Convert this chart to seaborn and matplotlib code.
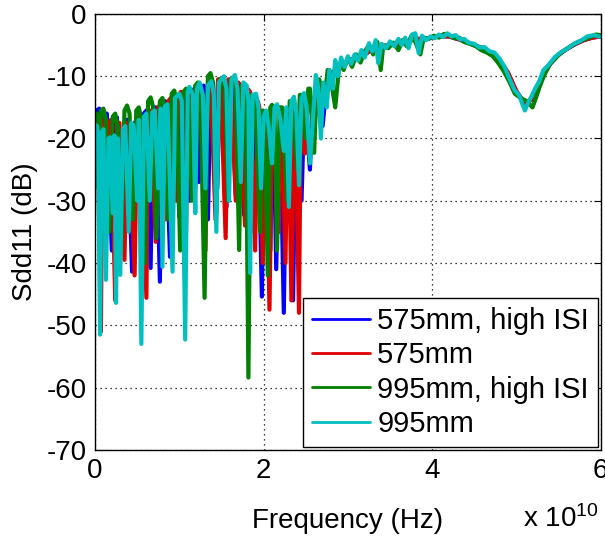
import matplotlib
matplotlib.use("Agg")
import matplotlib.pyplot as plt
import seaborn as sns
import pandas as pd
import numpy as np

# ---------------- data (frequency in units of 1e10 Hz, Sdd11 in dB) ----------------
series_names = ["575mm, high ISI", "575mm", "995mm, high ISI", "995mm"]
series_colors = ["#0000FF", "#E00000", "#008000", "#00BFBF"]

blue_f = [0.00, 0.02, 0.05, 0.08, 0.11, 0.14, 0.20, 0.23, 0.26, 0.32, 0.35, 0.38, 0.44, 0.47, 0.50,
          0.55, 0.58, 0.61, 0.66, 0.69, 0.72, 0.77, 0.80, 0.83, 0.89, 0.92, 0.95, 1.00, 1.03, 1.06,
          1.12, 1.15, 1.18, 1.23, 1.26, 1.29, 1.34, 1.37, 1.40, 1.45, 1.48, 1.51, 1.56, 1.59, 1.62,
          1.67, 1.70, 1.72, 1.77, 1.80, 1.83, 1.88, 1.91, 1.93, 1.98, 2.01, 2.03, 2.08, 2.10, 2.12,
          2.15, 2.18, 2.20, 2.24, 2.27, 2.30, 2.35, 2.38, 2.40, 2.45, 2.48, 2.50, 2.55, 2.58, 2.62,
          2.70, 2.75,
          2.80, 2.90, 3.00, 3.10, 3.20, 3.30, 3.40, 3.50, 3.60, 3.70, 3.80, 3.90, 4.00, 4.10, 4.20,
          4.30, 4.40, 4.50, 4.60, 4.70, 4.80, 4.90, 5.00, 5.10, 5.20, 5.30, 5.40, 5.50, 5.60, 5.70,
          5.80, 5.90, 6.00]
blue_db = [-19, -15.5, -15.2, -28, -16.5, -16, -38, -17, -16.6, -30, -17.5, -17, -41.4, -17.5, -17,
           -29, -16, -15.5, -40.8, -15.5, -15, -43, -14.5, -14, -39, -14, -13.5, -32.6, -13, -12.5,
           -30, -12.5, -12, -27, -12, -11.5, -33, -11.5, -11, -28, -11, -11, -31, -11, -11,
           -29, -11.5, -12, -32.3, -12.5, -13, -35, -14, -15, -45.4, -16.5, -17, -38, -18, -19,
           -41, -19.5, -20, -48, -19, -18, -46, -17.5, -17, -30, -16, -16, -25, -14, -13,
           -18, -11,
           -10, -8.5, -7.5, -7, -6.5, -5.5, -5.2, -5, -4.8, -4.5, -4, -4, -3.8, -3.6, -3.6,
           -4, -4.5, -5, -5.6, -6.3, -7.5, -9.5, -12.5, -14.5, -13.5, -10, -8, -6.5, -5.6, -4.8,
           -4.2, -3.8, -3.6]

red_f = [0.00, 0.03, 0.07, 0.09, 0.11, 0.15, 0.17, 0.19, 0.24, 0.26, 0.29, 0.35, 0.38, 0.41, 0.47,
         0.50, 0.54, 0.61, 0.63, 0.66, 0.72, 0.75, 0.78, 0.84, 0.87, 0.90, 0.96, 0.99, 1.02, 1.08,
         1.10, 1.13, 1.19, 1.22, 1.25, 1.31, 1.34, 1.37, 1.43, 1.46, 1.49, 1.55, 1.58, 1.61, 1.67,
         1.70, 1.72, 1.78, 1.81, 1.84, 1.90, 1.93, 1.95, 1.99, 2.01, 2.03, 2.07, 2.10, 2.12, 2.18,
         2.20, 2.22, 2.26, 2.28, 2.30, 2.33, 2.36, 2.38, 2.42, 2.44, 2.45, 2.49, 2.52, 2.55, 2.60,
         2.65, 2.68, 2.75, 2.80,
         2.90, 3.00, 3.10, 3.20, 3.30, 3.40, 3.50, 3.60, 3.70, 3.80, 3.90, 4.00, 4.10, 4.20, 4.30,
         4.40, 4.50, 4.60, 4.70, 4.80, 4.90, 5.00, 5.10, 5.20, 5.30, 5.40, 5.50, 5.60, 5.70, 5.80,
         5.90, 6.00]
red_db = [-18.5, -17, -51, -17.5, -17, -30, -17.5, -17, -46, -17.5, -17.5, -39.5, -17.5, -17.5, -42,
          -17, -16.5, -45.6, -16, -15.5, -36.6, -15, -14.5, -33, -14, -13.5, -30, -13, -12.5, -35,
          -12.5, -12, -28, -12, -11.5, -38, -11, -10.5, -33, -10.5, -10.5, -36, -10.5, -10.5, -30,
          -11, -11.5, -34, -12, -12.5, -38, -14, -15, -40, -16, -17, -47.5, -17, -17.5, -35,
          -18.5, -19, -40, -19, -19, -46, -18.5, -18, -48, -17.5, -17, -22.4, -15, -14, -18,
          -12, -12, -12.2, -9.5,
          -8.5, -7.5, -7, -6.5, -5.6, -5.2, -5, -4.8, -4.4, -4, -4, -3.8, -3.6, -3.6, -4,
          -4.4, -5, -5.5, -6.3, -7.4, -9.4, -12.4, -14.4, -13.6, -10.2, -8, -6.5, -5.6, -4.8, -4.2,
          -3.8, -3.6]

green_f = [0.00, 0.02, 0.04, 0.07, 0.10, 0.13, 0.17, 0.21, 0.24, 0.27, 0.31, 0.35, 0.38, 0.41, 0.45,
           0.49, 0.52, 0.55, 0.59, 0.63, 0.66, 0.69, 0.73, 0.77, 0.80, 0.83, 0.87, 0.91, 0.94, 0.97,
           1.01, 1.05, 1.08, 1.11, 1.15, 1.19, 1.22, 1.25, 1.30, 1.34, 1.37, 1.40, 1.44, 1.48, 1.51,
           1.54, 1.58, 1.61, 1.64, 1.67, 1.71, 1.74, 1.77, 1.79, 1.82, 1.85, 1.88, 1.90, 1.96, 1.99,
           2.01, 2.05, 2.08, 2.10, 2.13, 2.16, 2.19, 2.22, 2.28, 2.31, 2.34, 2.40, 2.43, 2.45, 2.50,
           2.53, 2.55, 2.60, 2.63, 2.66, 2.72, 2.76, 2.78, 2.85,
           2.90, 2.95, 3.00, 3.05, 3.10, 3.15, 3.20, 3.25, 3.30, 3.35, 3.39, 3.42, 3.48, 3.54, 3.60,
           3.65, 3.70, 3.75, 3.80, 3.86, 3.90, 3.96, 4.02, 4.08, 4.14, 4.20, 4.26, 4.32, 4.38, 4.45,
           4.52, 4.58, 4.65, 4.72, 4.78, 4.85, 4.92, 4.98, 5.05, 5.12, 5.19, 5.23, 5.28, 5.33, 5.40,
           5.47, 5.55, 5.62, 5.70, 5.78, 5.86, 5.94, 6.00]
green_db = [-18, -16, -28, -15.5, -15.2, -17, -35, -16.5, -16, -18, -38, -15.5, -14.7, -16, -33,
            -15.5, -15, -17, -40, -14, -13.4, -15, -36, -14, -13.5, -15, -33, -12.8, -12.3, -14,
            -38, -12.5, -12, -13.5, -30, -11.5, -11, -12.5, -45.6, -10, -9.5, -11, -32, -10.5, -10.5,
            -12, -30, -10.5, -10.5, -12, -37.9, -11.5, -12, -14, -58.4, -13, -13.5, -14, -35, -15.5,
            -16, -42, -15, -14.6, -16, -38, -15, -15, -30, -14, -14, -25, -13, -13, -20,
            -12, -12, -22.3, -11, -10.5, -14, -9, -9, -15,
            -8, -9, -7, -8.5, -6.5, -7.8, -6, -5, -6.5, -4.5, -9, -5, -5.5, -4.6, -5.8,
            -4.2, -5.2, -3.6, -4.5, -6.5, -3.8, -4.0, -3.5, -3.8, -3.2, -3.4, -3.9, -3.8, -4.5, -4.8,
            -5.2, -5.8, -6.2, -6.8, -7.8, -9.2, -11.0, -12.8, -13.5, -14.0, -15.0, -13.5, -11.5, -9.8, -8.0,
            -7.0, -6.0, -5.4, -4.7, -4.2, -3.8, -3.3, -3.4]

cyan_f = [0.00, 0.02, 0.035, 0.06, 0.08, 0.10, 0.13, 0.16, 0.18, 0.21, 0.23, 0.25, 0.27, 0.30, 0.33,
          0.36, 0.40, 0.43, 0.46, 0.50, 0.52, 0.55, 0.58, 0.61, 0.65, 0.68, 0.71, 0.75, 0.78, 0.80,
          0.83, 0.86, 0.92, 0.95, 1.00, 1.03, 1.07, 1.10, 1.12, 1.16, 1.19, 1.21, 1.24, 1.28, 1.31,
          1.34, 1.38, 1.41, 1.44, 1.47, 1.53, 1.56, 1.59, 1.62, 1.66, 1.69, 1.73, 1.76, 1.80, 1.82,
          1.84, 1.87, 1.91, 1.94, 1.97, 2.00, 2.03, 2.06, 2.10, 2.13, 2.16, 2.20, 2.24, 2.27, 2.30,
          2.33, 2.36, 2.39, 2.42, 2.45, 2.48, 2.51, 2.55, 2.58, 2.62, 2.65, 2.68, 2.71, 2.75, 2.78,
          2.82, 2.85,
          2.88, 2.92, 2.96, 3.00, 3.04, 3.08, 3.12, 3.16, 3.20, 3.25, 3.29, 3.33, 3.36, 3.40, 3.45,
          3.50, 3.55, 3.60, 3.64, 3.68, 3.72, 3.76, 3.80, 3.84, 3.88, 3.93, 3.98, 4.03, 4.08, 4.13,
          4.18, 4.23, 4.28, 4.33, 4.38, 4.43, 4.50, 4.56, 4.62, 4.68, 4.74, 4.80, 4.86, 4.92, 4.98,
          5.03, 5.07, 5.10, 5.14, 5.18, 5.22, 5.27, 5.32, 5.38, 5.45, 5.52, 5.60, 5.68, 5.76, 5.84,
          5.92, 6.00]
cyan_db = [-20, -17.9, -19, -51.5, -19, -18.5, -42.7, -20, -19.8, -32, -19.5, -46.4, -20, -41.9, -18.5,
           -18, -35, -17.5, -18, -30, -17, -53, -16.5, -16, -30, -15.8, -15.5, -28, -15.2, -40.6,
           -14.8, -14.5, -41.4, -13.5, -12.8, -14, -52.3, -12.5, -11.7, -13, -32, -12, -11, -13, -28,
           -11.5, -10.8, -13, -35, -11, -10, -12, -30, -10.5, -9.8, -12, -27, -11, -11.5, -14,
           -41.6, -13, -12.8, -15, -28, -16.5, -15.5, -18, -24, -15, -14.5, -17, -22, -15, -31,
           -14, -13.3, -16, -27.5, -13.5, -12.7, -15, -24, -18, -9.8, -12, -20, -11, -15, -9,
           -12, -7.4,
           -10, -7, -8.5, -6.8, -8, -6.5, -7.5, -5.8, -7, -4.7, -6, -4.2, -7.9, -4.8, -5.5,
           -4.4, -5.2, -4.0, -5.0, -3.8, -5.5, -3.3, -3.1, -6.3, -3.5, -4.2, -3.6, -3.9, -3.3, -3.7,
           -3.1, -3.6, -3.4, -4.1, -4.0, -4.6, -4.8, -5.4, -5.3, -6.0, -6.2, -7.2, -8.5, -10.5, -12.3,
           -13.0, -14.5, -15.5, -14.2, -13.2, -12.0, -10.8, -9.0, -8.2, -7.0, -6.2, -5.6, -4.8, -4.3, -3.6,
           -3.4, -3.7]

x_ticks = [0, 2, 4, 6]
y_ticks = [-70, -60, -50, -40, -30, -20, -10, 0]

# ---------------- build long table ----------------
frames = []
for name, f, d in zip(series_names,
                      [blue_f, red_f, green_f, cyan_f],
                      [blue_db, red_db, green_db, cyan_db]):
    frames.append(pd.DataFrame({"freq": f, "sdd11": d, "series": name}))
df = pd.concat(frames, ignore_index=True)

# ---------------- style ----------------
sns.set_style("white")
plt.rcParams['font.family'] = ['Liberation Sans', 'DejaVu Sans']
plt.rcParams['mathtext.fontset'] = 'custom'
plt.rcParams['mathtext.rm'] = 'Liberation Sans'
plt.rcParams['mathtext.it'] = 'Liberation Sans'
plt.rcParams['text.color'] = 'black'
plt.rcParams['axes.labelcolor'] = 'black'
plt.rcParams['xtick.color'] = 'black'
plt.rcParams['ytick.color'] = 'black'

FS = 20
fig = plt.figure(figsize=(6.05, 5.38), dpi=100)
ax = fig.add_axes([0.157, 0.164, 0.836, 0.810])

sns.lineplot(data=df, x="freq", y="sdd11", hue="series", hue_order=series_names,
             palette=series_colors, estimator=None, sort=False, linewidth=3.0,
             ax=ax, legend=False)

ax.set_xlim(0, 6)
ax.set_ylim(-70, 0)
ax.set_xticks(x_ticks)
ax.set_yticks(y_ticks)
ax.set_xticklabels([str(t) for t in x_ticks])
ax.set_yticklabels([str(t) for t in y_ticks])
ax.tick_params(axis='both', direction='in', length=5, width=0.8, labelsize=FS,
               top=True, right=True, pad=6, colors='black')
for s in ax.spines.values():
    s.set_color('black')
    s.set_linewidth(1.0)
ax.grid(True, linestyle=(0, (1, 3)), color='black', linewidth=0.9)
ax.set_axisbelow(True)

ax.set_xlabel("Frequency (Hz)", fontsize=FS, color='black')
ax.xaxis.set_label_coords(0.5, -0.163)
ax.xaxis.label.set_va('center')
ax.set_ylabel("Sdd11 (dB)", fontsize=FS, color='black')
ax.yaxis.set_label_coords(-0.138, 0.5)
ax.yaxis.label.set_va('center')

fig.text(523 / 605, 1 - 527 / 538, r"x 10$^{10}$", fontsize=FS, ha='left', va='baseline',
         color='black')

handles = [plt.Line2D([], [], color=c, linewidth=2) for c in series_colors]
leg = ax.legend(handles, series_names, loc='lower right', bbox_to_anchor=(0.994, 0.007),
                borderaxespad=0, prop={'size': 21}, frameon=True, fancybox=False,
                handlelength=2.0, handletextpad=0.25, labelspacing=0.22, borderpad=0.3,
                edgecolor='black', framealpha=1)
leg.get_frame().set_linewidth(1.0)
for t in leg.get_texts():
    t.set_color('black')

fig.savefig("out.png", dpi=100)
